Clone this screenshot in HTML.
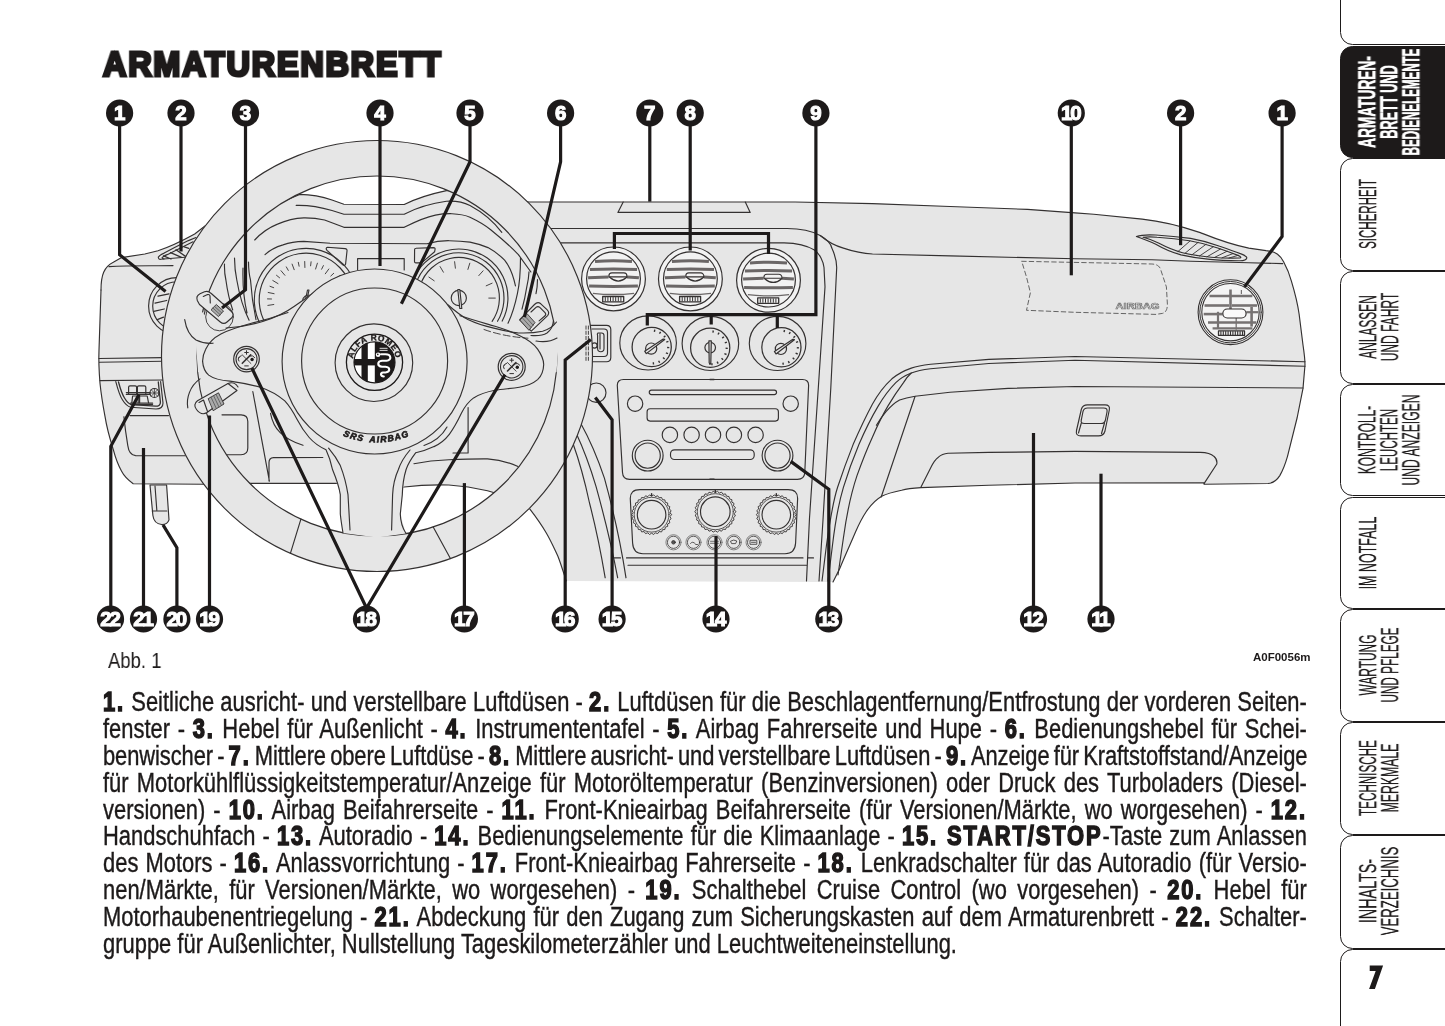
<!DOCTYPE html>
<html lang="de">
<head>
<meta charset="utf-8">
<title>Armaturenbrett</title>
<style>
html,body{margin:0;padding:0;background:#fff;}
html{overflow:hidden;width:1445px;height:1026px;}
body{width:1445px;height:1026px;position:relative;overflow:hidden;font-family:"Liberation Sans",sans-serif;color:#1d1a1a;}
#title{position:absolute;left:103.4px;top:42.4px;font-weight:bold;font-size:35.2px;line-height:44px;white-space:nowrap;transform-origin:0 0;transform:scaleX(0.919);-webkit-text-stroke:3.2px #1d1a1a;letter-spacing:2px;paint-order:stroke fill;}
#fig{position:absolute;left:0;top:0;}
#fig,#title,#abb,#code,#txt,.tl{will-change:transform;}
#abb{position:absolute;left:108px;top:649px;font-size:21.5px;line-height:24px;white-space:nowrap;transform-origin:0 0;transform:scaleX(0.86);}
#code{position:absolute;left:1253px;top:650px;font-size:11.5px;line-height:14px;font-weight:bold;white-space:nowrap;}
#txt{position:absolute;left:103px;top:688.5px;width:1204px;}
#txt div{font-size:27px;line-height:26.9px;height:26.9px;white-space:nowrap;width:1482.8px;transform-origin:0 0;transform:scaleX(0.812);-webkit-text-stroke:0.4px #1d1a1a;text-align:left;}
#txt b{font-weight:bold;-webkit-text-stroke:1.5px #1d1a1a;letter-spacing:2.3px;}
#tabs{position:absolute;left:0;top:0;width:1445px;height:1026px;overflow:hidden;}
.tab{position:absolute;left:1340.2px;width:130px;height:112.6px;border:1.5px solid #1d1a1a;border-radius:12.5px 0 0 12.5px;box-sizing:border-box;background:transparent;}
.tab.on{background:#1d1a1a;}
.tl{position:absolute;left:0;width:0;height:112.6px;}
.tl span{position:absolute;top:50%;white-space:nowrap;text-align:center;font-weight:normal;font-size:23.5px;line-height:21.8px;transform:translate(-50%,-50%) rotate(-90deg) scaleX(0.508);color:#1d1a1a;-webkit-text-stroke:0.28px #1d1a1a;}
.tl i{display:block;font-style:normal;}
.tl.on span{color:#fff;font-weight:bold;-webkit-text-stroke:0.7px #fff;}
#pno{position:absolute;left:1363px;top:958px;font-size:35px;line-height:38px;font-weight:bold;-webkit-text-stroke:1.2px #1d1a1a;transform-origin:0 0;transform:scaleX(0.9);}
</style>
</head>
<body>
<svg id="fig" width="1445" height="1026" viewBox="0 0 1445 1026">
<g fill="none" stroke="#343131" stroke-width="1.15" stroke-linejoin="round" stroke-linecap="round">
<path d="M101 290 C101 275 104 267 113.3 262.3 L121.6 257.6 L144.8 254 L158 250.7 C168 247.5 182 241 194.7 234 L205 226 L250 215 L299.7 194.4 C310 194.5 321.8 196.4 332 200 L343.9 204.2 L404.2 204.5 C414.6 199.2 428.4 194.4 446.4 190.6 L480 190 L528.8 202 L795 202 L872.5 203.6 L950 206.5 L1027.5 209.4 L1075 212.9 L1093.8 214.2 L1142.2 219.1 C1160 221 1175 224 1200.3 232.6 C1215 238.5 1228 244 1248.8 248.1 L1266 250.6 C1276 251.5 1280 255 1283.6 261.7 C1287 268 1289.5 274 1291.4 281.1 C1295 293 1297.5 303 1299.1 314 L1303 345 C1304.5 355 1305 360 1305 365 L1303 388.4 L1297.2 417.5 L1287.5 456.3 C1285 465 1283 470 1279.8 475.6 C1277 480 1274 483 1268 483.5 L1204.2 484.3 L1204 482.8 L1075 483 L988.8 485.3 L921 487.6 C912 488.2 906 489 901.6 490.2 C893 492 887 493.5 882.2 496 C876 499.5 870 506 866 512 C862 518 859 524 855.5 532 C850 545 844 558 840 568 L833 582 L566.2 581 C563 571 561 564 557.9 556.2 C554 548 551 541 546.3 533 C541 524 536 517 529.7 508.9 L480 535 L377 560 L270 535 L204.6 484.2 L133.2 483.7 C128 480 124 476 121.6 471.3 C118 465 115.5 458 113.3 449.7 C109 436 106.5 426 105 416.4 C102.5 403 101 393 100 383.2 C99 371 98.5 361 99 350 L100 320 Z" fill="#e6e6e6" stroke="none"/>
<path d="M101 290 C101 275 104 267 113.3 262.3 L121.6 257.6 L144.8 254 L158 250.7 C168 247.5 182 241 194.7 234 L205 226 L250 215 L299.7 194.4 C310 194.5 321.8 196.4 332 200 L343.9 204.2 L404.2 204.5 C414.6 199.2 428.4 194.4 446.4 190.6 L480 190 L528.8 202 L795 202 L872.5 203.6 L950 206.5 L1027.5 209.4 L1075 212.9 L1093.8 214.2 L1142.2 219.1 C1160 221 1175 224 1200.3 232.6 C1215 238.5 1228 244 1248.8 248.1 L1266 250.6 C1276 251.5 1280 255 1283.6 261.7 C1287 268 1289.5 274 1291.4 281.1 C1295 293 1297.5 303 1299.1 314 L1303 345 C1304.5 355 1305 360 1305 365 L1303 388.4 L1297.2 417.5 L1287.5 456.3 C1285 465 1283 470 1279.8 475.6 C1277 480 1274 483 1268 483.5 L1204.2 484.3 L1204 482.8 L1075 483 L988.8 485.3 L921 487.6 C912 488.2 906 489 901.6 490.2 C893 492 887 493.5 882.2 496 C876 499.5 870 506 866 512 C862 518 859 524 855.5 532 C850 545 844 558 840 568 L833 582" />
<path d="M566.2 581 C563 571 561 564 557.9 556.2 C554 548 551 541 546.3 533 C541 524 536 517 529.7 508.9 " />
<path d="M204.6 484.2 L133.2 483.7 C128 480 124 476 121.6 471.3 C118 465 115.5 458 113.3 449.7 C109 436 106.5 426 105 416.4 C102.5 403 101 393 100 383.2 C99 371 98.5 361 99 350 L100 320 L101 290" />
<path d="M109 266.6 C130 265.5 155 266 173 265.6" />
<path d="M99 358.5 L163 357.6 M99.5 362.3 L163 361.2 M100 380.6 L164 380" />
<path d="M196 237.5 L188.4 240.6 L174.6 247.5 L164.2 253.1 C162 254 160 255 158.3 257.2 C158.5 259 159.5 259.6 160.8 259.3 L185 257.2" />
<path d="M193 241.8 L181.5 247.5 L167.7 254.4 C165.5 255.2 163.5 256 162.1 257.6 C162.3 258.6 163 259 164 258.9" />
<path d="M163.5 255.8 L171 259 M170.5 252.6 L181.5 257.3 M176 249.8 L185.9 256.6 M184.3 246.9 L188.8 248.3" stroke-width="1.3"/>
<circle cx="177.0" cy="306.0" r="28.4" />
<circle cx="177.0" cy="306.0" r="24.3" />
<path d="M158 296.2 L169 293.8 M155 303.2 L166.7 300.5 M153.8 311.4 L164.3 309 M157.3 319.6 L163.5 317.2" stroke-width="1.25"/>
<path d="M115.8 381.6 C118 390 120 396 122.4 399.8 C125 404 127.5 406.5 130.7 407.3 L156 409 C160 409 163 407 163 403 L160.6 381.6" />
<path d="M118.5 382 C120.5 389.5 122.3 394.5 124.5 398 C126.5 401.5 128.8 403.8 131.5 404.6 L155.5 406.2 C158.8 406.2 160.6 404.8 160.4 402 L158.3 382" stroke-width="1.3"/>
<path d="M128.6 393.5 V387.2 q0 -1.4 1.4 -1.4 h5.2 q1.4 0 1.4 1.4 V393.5 M137.4 393.5 V387.2 q0 -1.4 1.4 -1.4 h5.6 q1.4 0 1.4 1.4 V393.5" stroke-width="1.2"/>
<path d="M131.8 403 L132.6 396 h5.6 V403 M139.6 403 V396 h7.6 L148.6 403" stroke-width="1.2"/>
<path d="M126.4 392.6 H150 M126.4 394.4 H150" stroke-width="1.4"/>
<path d="M130.6 403.2 H152.6 M130.6 404.6 H152.6" stroke-width="1.2"/>
<circle cx="154.4" cy="393.0" r="4.5" stroke-width="1.2"/>
<path d="M151.2 389.8 L157.6 396.2 M157.6 389.8 L151.2 396.2 M154.4 388.5 V397.5 M149.9 393 H158.9" stroke-width="0.8"/>
<path d="M130 415.6 H168.5 M123.9 416.7 L125.6 431.1 L127.8 445.6 C128.6 451.5 131 455.3 135.6 455.6 L185 455.8" />
<path d="M150 485 L152.9 515.5 C153.5 520.5 156.5 524 161.7 524.5 C165.5 524.6 168 523 169 519.9 L166.6 485 Z" fill="#e6e6e6"/>
<path d="M152.3 511 L166.8 511 M155 486 L156.8 510 " />
<path d="M623.2 202 L617.9 212.4 L750.2 212.4 L745.3 202" />
<path d="M551 228.5 H787 C802 228.5 812 231 820.2 235.5 C828 240 831 244 831.8 248.1 C835 255 836.7 262 836.7 267.5 L830.8 388 L823 520 L819 581" />
<path d="M561 242.8 H784 C797 243 808 246 814.4 250 C820 254 823.5 262 824 267.5 L825 286.9 L818.3 388 L809.5 518 L806.5 581" />
<path d="M820.2 235.5 C829 243 836 246 843.4 248.1 C852 251 862 253.5 872.5 254 L950 255.9 L1075 258.8 L1151.9 259.8 L1190.6 261.3 L1248.8 262.7 L1282.7 263.6" />
<path d="M1021.7 261.3 L1075 262.4 L1151.9 264 C1157 264.3 1159.5 266 1160.6 269.4 L1166.4 286.9 L1167.4 304.3 C1167.3 309.5 1166 312.3 1162.5 313.4 L1155.8 314.4 L1075 312.3 L1026.5 310.3 L1030.4 292.7 L1026.5 277 Z" stroke-dasharray="4.5 3" stroke-width="0.9" stroke="#555"/>
<text x="1137.5" y="309.3" font-family="Liberation Sans, sans-serif" font-weight="bold" font-size="8.6" text-anchor="middle" fill="#e6e6e6" stroke="#777" stroke-width="0.7" textLength="44" lengthAdjust="spacingAndGlyphs">AIRBAG</text>
<path d="M1136.4 236.5 C1142 234.5 1149 234.6 1155.8 235 C1168 235.8 1180 237 1190.6 238.4 C1201 240.3 1211 243 1219.7 246.2 C1228 249 1235 251.5 1241 253.9 C1245 255.5 1247 256.5 1246.8 257.8 C1246.5 260 1243 260.8 1239 260.7 C1229 260.6 1219 260.3 1210 259.4 C1200 258.5 1190 257 1181 254.9 C1172 252.5 1163 248.5 1155.8 244.3 C1149 241 1142 238.5 1136.4 236.5 Z" />
<path d="M1143 237.3 C1148 236.5 1152 236.7 1157 237.2 C1168 238 1180 239.3 1189.6 240.8 C1200 242.6 1209 245 1217.7 248 C1226 250.8 1232 253 1238 255.4 C1241 256.6 1241.5 257.6 1240 258 C1230 258.3 1220 258 1211 257.2 C1201 256.3 1191 254.8 1182.5 252.7 C1174 250.5 1166 247 1159 243.3 C1153 240.5 1148 238.5 1143 237.3 Z" />
<path d="M1178 251.5 L1190 241 M1185 253.3 L1198 242.5 M1192 254.8 L1206 244.3 M1199.5 256 L1213.5 246.6 M1207 256.8 L1220.5 249 M1214.5 257.4 L1227 251.3 M1222 257.8 L1233 253.6 M1229 258 L1238 255.4" stroke-width="0.9"/>
<circle cx="1230.5" cy="312.2" r="32.4" fill="#f3f3f3" stroke-width="1.1"/>
<circle cx="1230.5" cy="312.2" r="30.7" stroke-width="1"/>
<circle cx="1230.5" cy="312.2" r="28.7" fill="#f3f3f3" stroke-width="1.1"/>
<path d="M1209.5 296.0 H1252.4" stroke="#767272" stroke-width="2.6" stroke-linecap="butt"/>
<path d="M1204.5 305.5 H1229.0" stroke="#767272" stroke-width="2.6" stroke-linecap="butt"/>
<path d="M1232.0 305.5 H1257.0" stroke="#767272" stroke-width="2.6" stroke-linecap="butt"/>
<path d="M1203.7 314.1 H1222.5" stroke="#767272" stroke-width="2.6" stroke-linecap="butt"/>
<path d="M1246.3 312.2 H1258.5" stroke="#767272" stroke-width="2.2" stroke-linecap="butt"/>
<path d="M1208.0 322.5 H1256.3" stroke="#767272" stroke-width="2.6" stroke-linecap="butt"/>
<path d="M1212.6 328.3 H1252.4" stroke="#767272" stroke-width="2.2" stroke-linecap="butt"/>
<path d="M1230.5 289.5 V309.2" stroke="#767272" stroke-width="2.6" stroke-linecap="butt"/>
<path d="M1218.0 311.8 V328.0" stroke="#767272" stroke-width="2.2" stroke-linecap="butt"/>
<path d="M1251.6 307.0 V326.6" stroke="#767272" stroke-width="2.6" stroke-linecap="butt"/>
<path d="M1236.2 318.0 V329.7" stroke="#767272" stroke-width="1.3" stroke-linecap="butt"/>
<path d="M1241.4 290.0 V294.0" stroke="#767272" stroke-width="1.2" stroke-linecap="butt"/>
<path d="M1222.8 313.5 a4.5 4.5 0 0 1 4.5-4.5 h14.3 a4.5 4.5 0 0 1 0 9 h-14.3 a4.5 4.5 0 0 1 -4.5-4.5 Z" fill="#fafafa" stroke-width="1.2"/>
<path d="M1218.5 330.9 h26 v4.5 h-26 Z" fill="#f3f3f3" stroke-width="1.3"/>
<path d="M1220.9 331.6 v3.2 M1223.3 331.6 v3.2 M1225.7 331.6 v3.2 M1228.1 331.6 v3.2 M1230.5 331.6 v3.2 M1232.9 331.6 v3.2 M1235.3 331.6 v3.2 M1237.7 331.6 v3.2 M1240.1 331.6 v3.2 M1242.5 331.6 v3.2" stroke-width="1.1"/>
<path d="M1305 361.7 L1075 356.5 L988.8 359.4 L930.6 364.2 C922 365.3 916 366.5 911.3 368.1 C903 371 897 374.5 891.9 378.8 C884 386 878 394 872.5 404 C865 418 859 431 853.1 444.6 C847 460 842 474 837.6 487.3 C833.5 500 830 520 826.5 545 L822 581" />
<path d="M1305 366.2 L1075 360.3 L988.8 363.5 L930.6 368.7 C922 369.8 916 371.2 911.3 373 C905 375.5 900 378.5 895.8 382.6 C889 389.5 883.5 397 878.3 405.9 C870.5 419 864.5 431.5 858.9 444.6 C852.5 460 847.5 474 843.4 487.3 C839 502 835.5 520 832.5 545 L828 581" />
<path d="M911.3 373 C908 376 905.5 379 903.5 382.6 C898 390 893 397.5 888 405.9 C882 416 877 426.5 872.5 436.9 C866.5 450 861.5 463 857 475.6 C851.5 492 847.5 508 843.4 538 L838 575" />
<path d="M1303 388 L1075 386.5 L1008.1 388.4 L950 392.3 L915.1 396.2 C909 397.3 904 398.5 899.6 400 C894 403 890 407 886 411.7 C882 416.5 879 421 876.4 425.3 M915.1 396.2 L881.2 497" />
<path d="M921 486.9 L930.6 467.9 C933 463 935 459.5 938.4 457.2 C941 454.8 944 453.6 948 453.3 L988.8 452.4 L1075 451.4 L1200.3 452.4 C1207 452.6 1211.5 454 1213.9 456.3 C1216.5 458.5 1217.3 461 1216.8 464 L1204.2 483.4" />
<path d="M1087.5 404.9 L1105 404.9 C1108.5 404.9 1110 406.5 1109.3 410 L1105 431 C1104 434.5 1102 435.9 1098.5 435.9 L1081 435.9 C1077 435.9 1075.8 434 1076.5 430.5 L1081.3 409.5 C1082.2 406.3 1084 404.9 1087.5 404.9 Z" />
<path d="M1087.5 408 L1103.5 408 C1106.5 408 1107.5 409.3 1107 412 L1105.3 420.5 C1104.7 422.8 1103.3 423.5 1101 423.5 L1084.5 423.5 C1081.5 423.5 1080.7 422.3 1081.3 420 L1083 411.5 C1083.6 409 1085 408 1087.5 408 Z M1081.3 423 L1078.5 433 M1104.5 423 L1101.5 433.5" />
<path d="M296.2 205.4 C310 205 322 207.5 332 210.5 L343.9 214.2 L404.2 214.2 C414.6 208.9 430 203.5 446.4 201.3 C455 200.8 463 202 470 205.5 C483 212.5 494 222 501.8 232.4" />
<path d="M254.7 240 C262 232 269 227.5 277.5 224.1 C287 220 296 218.2 303.8 217.9 C312 217.8 318 218.5 324.6 220 L343.9 227.3 L404.2 227.3 C414.6 222 426 217 435.4 215.1 C441 214 447 213.6 452 213.7 C459 214 465 215 470 217.2 C478 221 485 225 490.7 229.7 C501 238 511 247 518.4 254.6 L530.9 272" />
<path d="M265 254.6 C270 250 276 247 283 244.9 C290 242.5 297 241.6 303.8 241.4 L330 243.2 L427 243.8 C435 241.5 442 240.6 449.2 240.7 C457 240.8 464 241.3 470 242.1 C477 243.5 483 245.5 488 247.6 C495 251.5 500 255.5 504.6 260.1 C509 265.5 513 274 515.5 286" />
<path d="M327.5 247.3 L345 248.6 C346.6 248.8 347.2 249.6 347 251 L345.6 264 C345.3 265.6 344 265.8 342.8 264.8 L327 250.3 C325.8 249 326 247.4 327.5 247.3 Z" />
<path d="M416 248.2 L433.5 247.6 C434.8 247.6 435.3 248.3 435 249.6 L434.6 251.8 L421.5 262.9 L416 262.9 C414.9 262.9 414.4 262.3 414.5 261 L414.6 249.5 C414.7 248.6 415.1 248.2 416 248.2 Z" />
<path d="M357.6 270 V258.6 H404.2 V270" />
<path d="M261.2 325.9 A51.7 51.7 0 1 1 356.6 310.7" />
<path d="M265.5 323.4 A46.8 46.8 0 1 1 351.8 309.7" />
<path d="M267.9 305.4 L273.8 304.5" stroke-width="0.9"/>
<path d="M267.5 298.9 L271.5 299.0" stroke-width="0.9"/>
<path d="M268.2 292.5 L274.1 293.7" stroke-width="0.9"/>
<path d="M270.0 286.3 L273.7 287.7" stroke-width="0.9"/>
<path d="M272.8 280.5 L278.0 283.6" stroke-width="0.9"/>
<path d="M276.5 275.3 L279.6 277.8" stroke-width="0.9"/>
<path d="M281.0 270.7 L284.9 275.3" stroke-width="0.9"/>
<path d="M286.3 266.9 L288.3 270.4" stroke-width="0.9"/>
<path d="M292.1 264.1 L294.2 269.7" stroke-width="0.9"/>
<path d="M298.3 262.3 L299.1 266.2" stroke-width="0.9"/>
<path d="M304.7 261.5 L304.9 267.5" stroke-width="0.9"/>
<path d="M311.1 261.8 L310.6 265.8" stroke-width="0.9"/>
<path d="M317.4 263.2 L315.6 269.0" stroke-width="0.9"/>
<path d="M323.4 265.6 L321.6 269.2" stroke-width="0.9"/>
<path d="M328.8 269.0 L325.3 273.8" stroke-width="0.9"/>
<path d="M333.7 273.3 L330.8 276.0" stroke-width="0.9"/>
<path d="M337.8 278.2 L332.8 281.6" stroke-width="0.9"/>
<path d="M340.9 283.9 L337.3 285.5" stroke-width="0.9"/>
<path d="M343.2 289.9 L337.4 291.5" stroke-width="0.9"/>
<path d="M302.5 301 a6 6 0 0 1 8-5.5 M307.5 290 l1.5 0 l-2.5 12 l-1.5 0 Z" />
<path d="M410.2 304.8 A49.1 49.1 0 1 1 502.2 321.1" />
<path d="M414.0 304.3 A45.2 45.2 0 1 1 497.5 321.3" />
<path d="M418.6 303.7 A40.6 40.6 0 1 1 492.1 321.3" />
<path d="M428.9 277.1 L434.2 280.8" stroke-width="0.9"/>
<path d="M440.1 266.6 L443.4 272.2" stroke-width="0.9"/>
<path d="M454.6 261.7 L455.4 268.2" stroke-width="0.9"/>
<path d="M469.8 263.2 L467.9 269.4" stroke-width="0.9"/>
<path d="M483.1 270.8 L478.8 275.6" stroke-width="0.9"/>
<path d="M492.1 283.2 L486.2 285.8" stroke-width="0.9"/>
<path d="M495.3 298.1 L488.8 298.1" stroke-width="0.9"/>
<circle cx="458.8" cy="298.0" r="7.6" />
<path d="M457.8 289.5 h2 l2 19 h-2 Z" fill="#e6e6e6"/>
<path d="M520.5 257.7 C520.5 272 519.5 284 517.4 293.6 C515 305 512 315 508 323.2 M529 271.8 C528.8 277 528 282 526.7 287.4 C525.5 295 524 302 522 309.2 M537.5 279.5 C537.5 285 537 289 536 293.6" />
<path d="M224.5 264 C224.3 270 225 276 225.9 280 C227.5 292 230 302 232.7 310 M234.5 258 C234.6 266 235.5 274 236.8 280 C239.5 296 244 310 249.1 320.2 M248.5 262 C248.6 270 249.2 275 250.5 280 C251.5 295 253.5 308 256 319.6 M243 268 C242.5 285 244 300 247 313" />
<circle cx="613.5" cy="278.9" r="31.9" fill="#f2f2f2" stroke-width="1.2"/>
<circle cx="613.5" cy="278.7" r="26.9" fill="#f2f2f2" stroke-width="1.2"/>
<path d="M595.0 261.6 Q613.5 260.1 632.0 261.6" stroke="#6b6767" stroke-width="3.0" stroke-linecap="butt"/>
<path d="M589.9 269.5 Q613.5 268.6 637.1 269.5" stroke="#6b6767" stroke-width="3.0" stroke-linecap="butt"/>
<path d="M589.1 286.1 Q613.5 286.7 637.9 286.1" stroke="#6b6767" stroke-width="3.0" stroke-linecap="butt"/>
<path d="M592.9 293.3 Q613.5 295.7 634.1 293.3" stroke="#6b6767" stroke-width="1.3" stroke-linecap="butt"/>
<path d="M588.1 277.7 L608.5 276.9 M627.0 276.9 L638.9 277.7" stroke="#6b6767" stroke-width="3" stroke-linecap="butt"/>
<path d="M608.9 276.9 v-1 a3 3 0 0 1 3-3 h12 a3 3 0 0 1 3 3 v1 Z" fill="#f2f2f2" stroke-width="1.1"/>
<path d="M609.7 277.3 q8.6 7.5 17 0" stroke-width="1.2"/>
<path d="M602.7 296.5 h21 v5.4 h-21 Z" fill="#f2f2f2" stroke-width="1.3"/>
<path d="M605.3 297.5 v3.4 M607.9 297.5 v3.4 M610.5 297.5 v3.4 M613.1 297.5 v3.4 M615.7 297.5 v3.4 M618.3 297.5 v3.4 M620.9 297.5 v3.4" stroke-width="1"/>
<circle cx="690.4" cy="278.9" r="31.9" fill="#f2f2f2" stroke-width="1.2"/>
<circle cx="690.4" cy="278.7" r="26.9" fill="#f2f2f2" stroke-width="1.2"/>
<path d="M671.9 261.6 Q690.4 260.1 708.9 261.6" stroke="#6b6767" stroke-width="3.0" stroke-linecap="butt"/>
<path d="M666.8 269.5 Q690.4 268.6 714.0 269.5" stroke="#6b6767" stroke-width="3.0" stroke-linecap="butt"/>
<path d="M666.0 286.1 Q690.4 286.7 714.8 286.1" stroke="#6b6767" stroke-width="3.0" stroke-linecap="butt"/>
<path d="M669.8 293.3 Q690.4 295.7 711.0 293.3" stroke="#6b6767" stroke-width="1.3" stroke-linecap="butt"/>
<path d="M665.0 277.7 L685.4 276.9 M703.9 276.9 L715.8 277.7" stroke="#6b6767" stroke-width="3" stroke-linecap="butt"/>
<path d="M685.8 276.9 v-1 a3 3 0 0 1 3-3 h12 a3 3 0 0 1 3 3 v1 Z" fill="#f2f2f2" stroke-width="1.1"/>
<path d="M686.6 277.3 q8.6 7.5 17 0" stroke-width="1.2"/>
<path d="M679.6 296.5 h21 v5.4 h-21 Z" fill="#f2f2f2" stroke-width="1.3"/>
<path d="M682.2 297.5 v3.4 M684.8 297.5 v3.4 M687.4 297.5 v3.4 M690.0 297.5 v3.4 M692.6 297.5 v3.4 M695.2 297.5 v3.4 M697.8 297.5 v3.4" stroke-width="1"/>
<circle cx="768.5" cy="280.3" r="31.9" fill="#f2f2f2" stroke-width="1.2"/>
<circle cx="768.5" cy="280.1" r="26.9" fill="#f2f2f2" stroke-width="1.2"/>
<path d="M750.0 263.0 Q768.5 261.5 787.0 263.0" stroke="#6b6767" stroke-width="3.0" stroke-linecap="butt"/>
<path d="M744.9 270.9 Q768.5 270.0 792.1 270.9" stroke="#6b6767" stroke-width="3.0" stroke-linecap="butt"/>
<path d="M744.1 287.5 Q768.5 288.1 792.9 287.5" stroke="#6b6767" stroke-width="3.0" stroke-linecap="butt"/>
<path d="M747.9 294.7 Q768.5 297.1 789.1 294.7" stroke="#6b6767" stroke-width="1.3" stroke-linecap="butt"/>
<path d="M743.1 279.1 L763.5 278.3 M782.0 278.3 L793.9 279.1" stroke="#6b6767" stroke-width="3" stroke-linecap="butt"/>
<path d="M763.9 278.3 v-1 a3 3 0 0 1 3-3 h12 a3 3 0 0 1 3 3 v1 Z" fill="#f2f2f2" stroke-width="1.1"/>
<path d="M764.7 278.7 q8.6 7.5 17 0" stroke-width="1.2"/>
<path d="M757.7 297.9 h21 v5.4 h-21 Z" fill="#f2f2f2" stroke-width="1.3"/>
<path d="M760.3 298.9 v3.4 M762.9 298.9 v3.4 M765.5 298.9 v3.4 M768.1 298.9 v3.4 M770.7 298.9 v3.4 M773.3 298.9 v3.4 M775.9 298.9 v3.4" stroke-width="1"/>
<ellipse cx="648.1" cy="342.9" rx="28.3" ry="27.1"/>
<circle cx="651.7" cy="347.0" r="19.6" stroke-width="1.25"/>
<path d="M654.8 329.7 L654.4 331.8" stroke-width="1.4" stroke-linecap="butt"/>
<path d="M660.6 331.8 L659.5 333.7" stroke-width="1.4" stroke-linecap="butt"/>
<path d="M665.4 335.9 L663.7 337.3" stroke-width="1.4" stroke-linecap="butt"/>
<path d="M668.4 341.4 L666.3 342.1" stroke-width="1.4" stroke-linecap="butt"/>
<path d="M669.3 347.6 L667.1 347.5" stroke-width="1.4" stroke-linecap="butt"/>
<path d="M668.0 353.7 L665.9 352.9" stroke-width="1.4" stroke-linecap="butt"/>
<path d="M664.6 359.0 L663.0 357.5" stroke-width="1.4" stroke-linecap="butt"/>
<path d="M659.6 362.8 L658.6 360.8" stroke-width="1.4" stroke-linecap="butt"/>
<path d="M653.5 364.5 L653.3 362.3" stroke-width="1.4" stroke-linecap="butt"/>
<circle cx="651.2" cy="348.6" r="5.6" stroke-width="1.2"/>
<path d="M644.7 351.2 L663.2 339.0 L664.7 339.4 L646.3 353.6 Z" fill="#e6e6e6" stroke-width="1.2"/>
<ellipse cx="710.4" cy="343.4" rx="28.3" ry="27.1"/>
<circle cx="710.2" cy="347.8" r="19.6" stroke-width="1.25"/>
<path d="M713.3 330.5 L712.9 332.6" stroke-width="1.4" stroke-linecap="butt"/>
<path d="M719.1 332.6 L718.0 334.5" stroke-width="1.4" stroke-linecap="butt"/>
<path d="M723.9 336.7 L722.2 338.1" stroke-width="1.4" stroke-linecap="butt"/>
<path d="M726.9 342.2 L724.8 342.9" stroke-width="1.4" stroke-linecap="butt"/>
<path d="M727.8 348.4 L725.6 348.3" stroke-width="1.4" stroke-linecap="butt"/>
<path d="M726.5 354.5 L724.4 353.7" stroke-width="1.4" stroke-linecap="butt"/>
<path d="M723.1 359.8 L721.5 358.3" stroke-width="1.4" stroke-linecap="butt"/>
<path d="M718.1 363.6 L717.1 361.6" stroke-width="1.4" stroke-linecap="butt"/>
<path d="M712.0 365.3 L711.8 363.1" stroke-width="1.4" stroke-linecap="butt"/>
<circle cx="710.2" cy="347.6" r="5.3" stroke-width="1.2"/>
<path d="M708.9 340.8 h2.4 l-0.5 22 l-0.8 1.6 l-0.8 -1.6 Z" fill="#e6e6e6" stroke-width="1.2"/>
<ellipse cx="777.6" cy="343.4" rx="28.3" ry="27.1"/>
<circle cx="781.4" cy="347.3" r="19.6" stroke-width="1.25"/>
<path d="M784.5 330.0 L784.1 332.1" stroke-width="1.4" stroke-linecap="butt"/>
<path d="M790.3 332.1 L789.2 334.0" stroke-width="1.4" stroke-linecap="butt"/>
<path d="M795.1 336.2 L793.4 337.6" stroke-width="1.4" stroke-linecap="butt"/>
<path d="M798.1 341.7 L796.0 342.4" stroke-width="1.4" stroke-linecap="butt"/>
<path d="M799.0 347.9 L796.8 347.8" stroke-width="1.4" stroke-linecap="butt"/>
<path d="M797.7 354.0 L795.6 353.2" stroke-width="1.4" stroke-linecap="butt"/>
<path d="M794.3 359.3 L792.7 357.8" stroke-width="1.4" stroke-linecap="butt"/>
<path d="M789.3 363.1 L788.3 361.1" stroke-width="1.4" stroke-linecap="butt"/>
<path d="M783.2 364.8 L783.0 362.6" stroke-width="1.4" stroke-linecap="butt"/>
<circle cx="780.9" cy="348.9" r="5.6" stroke-width="1.2"/>
<path d="M774.4 351.5 L792.9 339.3 L794.4 339.7 L776.0 353.9 Z" fill="#e6e6e6" stroke-width="1.2"/>
<path d="M588 325.3 H606.5 C609.5 325.3 610.8 326.5 610.8 329.5 V357.5 C610.8 360.5 609.5 361.7 606.5 361.7 H588" />
<path d="M592 329 H604 C606.5 329 607.5 330 607.5 332.5 V353 C607.5 355.5 606.5 356.5 604 356.5 H592" />
<path d="M598 333 h3.5 a2.5 2.5 0 0 1 2.5 2.5 v13 a3.2 3.2 0 0 1 -6.4 0 v-13 a2 2 0 0 1 0.4 -2.5 Z M600 334 v15" />
<circle cx="594.5" cy="345.5" r="2.6" />
<circle cx="596.3" cy="392.7" r="9.7" />
<path d="M623.5 379.5 H802.5 C806.5 379.5 808.7 381.5 808.6 385.5 L804.8 472.5 C804.5 477 802 479.3 797.5 479.3 H629.5 C625 479.3 622.7 477 622.5 472.5 L617.3 385.5 C617.2 381.5 619.5 379.5 623.5 379.5 Z" />
<path d="M710 379.5 h4 M710 479.3 h4" stroke-width="1.6"/>
<path d="M651.5 390.1 H774.3 a2.25 2.25 0 0 1 0 4.5 H651.5 a2.25 2.25 0 0 1 0 -4.5 Z" />
<rect x="647.1" y="408.7" width="131.3" height="12.4" rx="3" ry="3"/>
<circle cx="635.1" cy="403.7" r="7.7" />
<circle cx="790.7" cy="403.7" r="7.7" />
<circle cx="669.9" cy="434.9" r="7.7" />
<circle cx="691.6" cy="434.9" r="7.7" />
<circle cx="713.0" cy="434.9" r="7.7" />
<circle cx="733.9" cy="434.9" r="7.7" />
<circle cx="755.6" cy="434.9" r="7.7" />
<circle cx="647.7" cy="455.6" r="15.4" />
<circle cx="647.7" cy="455.6" r="12.6" />
<circle cx="777.5" cy="455.6" r="15.4" />
<circle cx="777.5" cy="455.6" r="12.6" />
<rect x="670.5" y="449.8" width="83.7" height="9.7" rx="4" ry="4"/>
<path d="M640 489.6 H788 C794.5 489.6 797.9 492.5 797.6 499 L795.6 543 C795.2 550 791.5 553.7 785 553.7 H643 C636.5 553.7 633 550 632.6 543 L630.3 499 C630 492.5 633.5 489.6 640 489.6 Z" />
<path d="M671.5 514.7 L670.0 516.6 L671.1 518.8 L669.2 520.4 L669.8 522.8 L667.6 524.0 L667.7 526.4 L665.3 527.1 L664.9 529.5 L662.5 529.7 L661.6 531.9 L659.1 531.6 L657.7 533.6 L655.4 532.8 L653.7 534.5 L651.6 533.2 L649.5 534.5 L647.8 532.8 L645.5 533.6 L644.1 531.6 L641.6 531.9 L640.7 529.7 L638.3 529.5 L637.9 527.1 L635.5 526.4 L635.6 524.0 L633.4 522.8 L634.0 520.4 L632.1 518.8 L633.2 516.6 L631.7 514.7 L633.2 512.8 L632.1 510.6 L634.0 509.0 L633.4 506.6 L635.6 505.5 L635.5 503.0 L637.9 502.3 L638.3 499.9 L640.7 499.7 L641.6 497.5 L644.1 497.8 L645.5 495.8 L647.8 496.6 L649.5 494.9 L651.6 496.2 L653.7 494.9 L655.4 496.6 L657.7 495.8 L659.1 497.8 L661.6 497.5 L662.5 499.7 L664.9 499.9 L665.3 502.3 L667.7 503.0 L667.6 505.5 L669.8 506.6 L669.2 509.0 L671.1 510.6 L670.0 512.8 Z" stroke-width="0.9"/>
<circle cx="651.6" cy="514.7" r="17.4" stroke-width="0.8"/>
<circle cx="651.6" cy="514.7" r="14.3" />
<path d="M735.8 511.7 L734.3 513.7 L735.4 516.0 L733.5 517.6 L734.0 520.0 L731.8 521.2 L731.9 523.7 L729.5 524.5 L729.0 526.9 L726.5 527.2 L725.5 529.5 L723.1 529.1 L721.6 531.2 L719.3 530.4 L717.4 532.1 L715.3 530.8 L713.2 532.1 L711.3 530.4 L709.0 531.2 L707.5 529.1 L705.0 529.5 L704.1 527.2 L701.6 526.9 L701.1 524.5 L698.7 523.7 L698.8 521.2 L696.6 520.0 L697.1 517.6 L695.2 516.0 L696.3 513.7 L694.8 511.7 L696.3 509.7 L695.2 507.4 L697.1 505.8 L696.6 503.4 L698.8 502.1 L698.7 499.7 L701.1 498.9 L701.6 496.5 L704.1 496.2 L705.0 493.9 L707.5 494.3 L709.0 492.2 L711.3 493.0 L713.2 491.3 L715.3 492.6 L717.4 491.3 L719.3 493.0 L721.6 492.2 L723.1 494.3 L725.5 493.9 L726.5 496.2 L729.0 496.5 L729.5 498.9 L731.9 499.7 L731.8 502.1 L734.0 503.4 L733.5 505.8 L735.4 507.4 L734.3 509.7 Z" stroke-width="0.9"/>
<circle cx="715.3" cy="511.7" r="18.0" stroke-width="0.8"/>
<circle cx="715.3" cy="511.7" r="14.8" />
<path d="M796.2 514.7 L794.7 516.6 L795.8 518.8 L793.9 520.4 L794.5 522.8 L792.3 524.0 L792.4 526.4 L790.0 527.1 L789.6 529.5 L787.2 529.7 L786.2 531.9 L783.8 531.6 L782.4 533.6 L780.1 532.8 L778.4 534.5 L776.3 533.2 L774.2 534.5 L772.5 532.8 L770.2 533.6 L768.8 531.6 L766.3 531.9 L765.4 529.7 L763.0 529.5 L762.6 527.1 L760.2 526.4 L760.3 524.0 L758.1 522.8 L758.7 520.4 L756.8 518.8 L757.9 516.6 L756.4 514.7 L757.9 512.8 L756.8 510.6 L758.7 509.0 L758.1 506.6 L760.3 505.5 L760.2 503.0 L762.6 502.3 L763.0 499.9 L765.4 499.7 L766.3 497.5 L768.8 497.8 L770.2 495.8 L772.5 496.6 L774.2 494.9 L776.3 496.2 L778.4 494.9 L780.1 496.6 L782.4 495.8 L783.8 497.8 L786.2 497.5 L787.2 499.7 L789.6 499.9 L790.0 502.3 L792.4 503.0 L792.3 505.5 L794.5 506.6 L793.9 509.0 L795.8 510.6 L794.7 512.8 Z" stroke-width="0.9"/>
<circle cx="776.3" cy="514.7" r="17.4" stroke-width="0.8"/>
<circle cx="776.3" cy="514.7" r="14.3" />
<path d="M651.6 493.6 v2 M715.3 489.8 v2.4 M776.3 493.6 v2" stroke-width="1.4"/>
<circle cx="673.5" cy="542.3" r="7.6" stroke="#777" stroke-width="0.9"/>
<circle cx="673.5" cy="542.3" r="6.1" stroke-width="0.8"/>
<circle cx="693.5" cy="542.3" r="7.6" stroke="#777" stroke-width="0.9"/>
<circle cx="693.5" cy="542.3" r="6.1" stroke-width="0.8"/>
<circle cx="714.5" cy="542.3" r="7.6" stroke="#777" stroke-width="0.9"/>
<circle cx="714.5" cy="542.3" r="6.1" stroke-width="0.8"/>
<circle cx="733.8" cy="542.3" r="7.6" stroke="#777" stroke-width="0.9"/>
<circle cx="733.8" cy="542.3" r="6.1" stroke-width="0.8"/>
<circle cx="753.6" cy="542.3" r="7.6" stroke="#777" stroke-width="0.9"/>
<circle cx="753.6" cy="542.3" r="6.1" stroke-width="0.8"/>
<circle cx="673.5" cy="542.3" r="1.8" stroke-width="0.8" fill="#555"/>
<path d="M690.5 543.5 q2 -3 5 0.5 M696 544.5 l1.5 0" stroke-width="0.8"/>
<path d="M710.5 541.3 h8 M710.5 543.3 h8" stroke-width="0.9" stroke="#666"/>
<path d="M730.8 541 q3 -2 6 0 l-1.2 2.6 h-3.6 Z" stroke-width="0.8"/>
<path d="M750.4 540.3 h6.4 v4 h-6.4 Z M751.5 542.3 h4" stroke-width="0.8"/>
<path d="M614.4 557.9 H620.5 M626.5 557.9 H803 M808 557.9 H813.5 M628 565.2 H806.5" />
<path d="M580.3 422.5 C577 429 574.5 436 572.9 443.3 C580 463 585 482 589.5 503 C596 528 601 553 605.2 577.8" />
<path d="M576.2 433.3 C584 450 590.5 468 596 486.4 C604.5 517 612 548 617.7 577.8" />
<path d="M580.3 422.5 C590 440 598 459 604.4 478.1 C613.5 511 621 545 626 577.8" />
<clipPath id="cin"><circle cx="377.0" cy="356.0" r="180.0"/></clipPath>
<path d="M225 483.3 H352 V545 H225 Z M385 488.5 L404.2 487 C420 485 435 484.6 448.8 485 C463 485.8 476 488 487.5 490.8 C497 493.5 505 496 512.7 498.6 L540 510 V545 H385 Z" fill="#fff" stroke="none" clip-path="url(#cin)"/>
<path d="M269 481 V462.5 C269 459.5 270.5 457.8 273.5 457.6 L322.8 457.5 M252.8 391.5 L269.4 481.2" />
<path d="M413.9 463.7 C425 461.5 437 460.2 448.8 459.8 C462 459.2 475 458.8 487.5 458.9 C498 459.5 508 462 518 466.5 M453 453 H468.1 V407.5 M225 483.3 H345" />
<path d="M392 488 L404.2 487 C420 485 435 484.6 448.8 485 C463 485.8 476 488 487.5 490.8 C497 493.5 505 496 512.7 498.6" />
<path d="M222 414.8 H241 C245.5 414.8 247.8 417 247.8 421.5 V448 C247.8 452.5 245.5 454.7 241 454.7 H226" />
<path d="M161.5 356.0 a215.5 215.5 0 1 0 431.0 0 a215.5 215.5 0 1 0 -431.0 0 Z M197.0 356.0 a180.0 180.0 0 1 1 360.0 0 a180.0 180.0 0 1 1 -360.0 0 Z" fill="#e6e6e6" fill-rule="evenodd"/>
<path d="M433.2 527.0 L450.4 558.6" />
<path d="M300.9 519.1 L290.4 553.3" />
<path d="M198 305 C205 318 214 327.5 226 328 C250 327 277 319 294.4 306.3 C308 296.5 322 287 340 275.8 A92.5 92.5 0 0 1 447.5 304.5 C470 321 500 332.5 530 333 C545 332 552 328 556.5 322 L558.5 345 L556.5 372 L537.6 379.6 L519.3 387.2 L495 390.3 L473.6 397.9 L461.5 413.1 L449.3 434.4 L434 446.6 L415.8 452.7 L406.1 469.5 L402.3 494.7 L400.3 514 L406 533.5 L377 537.5 L343 533 L340.3 514 L340.3 494.7 L332.5 469.5 L326 449.7 L309.2 437.5 L297 419.2 L284.8 400.9 L260.5 387.2 L230 381.1 L208.7 375.1 L198 372 L196 345 Z" fill="#e6e6e6" stroke="none"/>
<path d="M226 328 C250 327 277 319 294.4 306.3 C308 296.5 322 287 340 275.8" />
<path d="M184.7 319.6 C186 328 190 336 196 340 C202 343 208 343.6 213 343.2" />
<path d="M447.5 304.5 C455 311 461 316 467.9 319.6 C476 323.5 484 326 492.8 327.9 C501 330 509 332 517.7 332.9 C526 333.3 535 332.8 542.6 331.2 C548 329.8 552 328 556.5 322" />
<path d="M484 329.5 C495 333.5 510 337 528 338.2" stroke-dasharray="7 3" stroke-width="0.9"/>
<path d="M536 341 C545 342.5 552 341 557 338" />
<path d="M288 312.5 C275 317 263 320.5 251.4 323.3 C240 326.5 230 329.5 220.9 333.9 C213 338 208.5 343 205.7 349.2 C203.5 353.5 202.5 357.5 202.6 361.4 C203 367 205 372 208.7 375.1 C214 379 221 380.5 230 381.1 C240 382.5 250 384.5 260.5 387.2 C270 390.5 278 395 284.8 400.9 C290 406.5 293.5 412.5 297 419.2 C300.5 426 304.5 432 309.2 437.5 C314 443 320 447 326 449.7 C329 456 331 462 332.5 469.5 C336 478 339 486 340.3 494.7 L340.3 514 C341 521 342 527 343 533" />
<path d="M328.6 448.2 C333.5 454 337.5 460 340.3 465.6 C344 475 346.5 485 348 494.7 L350 530" />
<path d="M270.5 413.3 C272 421 275.5 428 280.2 432.7 C286 438.5 293.5 442.5 303 445.3" />
<path d="M460 315.7 C472 319.5 484 323 495 326.3 C504 329 512 332 519.3 335.5 C528 339.5 534 344 537.6 349.2 C541 354 543.5 359 543.7 364.4 C543.5 370.5 541.5 376 537.6 379.6 C533 383.5 527 386 519.3 387.2 C511 388.5 503 389 495 390.3 C487 391.8 479.5 394.3 473.6 397.9 C468 402 464.5 407 461.5 413.1 C458 420.5 454 428 449.3 434.4 C445 440 440 444 434 446.6 C428 449.5 422 451.5 415.8 452.7 C411 459 408 464 406.1 469.5 C403.5 478 402.5 486 402.3 494.7 L400.3 514 C400.5 522 402.5 528 406 533.5" />
<path d="M410 450 C404 457 400.5 463 398.4 469.5 C394.5 478 393 486 392.6 494.7 L391.6 530" />
<path d="M447 427 C442 436 434 442 424 445.5" />
<circle cx="374.6" cy="361.5" r="92.5" fill="#e6e6e6"/>
<circle cx="374.6" cy="361.0" r="73.0" />
<circle cx="373.9" cy="362.7" r="38.8" />
<circle cx="374.5" cy="362.3" r="28.1" fill="#e6e6e6" stroke-width="1.3" stroke="#1d1a1a"/>
<clipPath id="bclip"><circle cx="374.5" cy="362.3" r="20.5"/></clipPath>
<circle cx="374.5" cy="362.3" r="20.5" fill="#fff" stroke="none"/>
<g clip-path="url(#bclip)" stroke="none">
<rect x="374.8" y="341.8" width="20.5" height="41.0" fill="#1d1a1a"/>
<rect x="361.5" y="341.8" width="6.3" height="41.0" fill="#1d1a1a"/>
<rect x="354.0" y="359.0" width="21.0" height="6.4" fill="#1d1a1a"/>
</g>
<path d="M381.0 354.3 h4.5 c6 0 6.5 5.8 1 6.4 h-4.5 c-5 0.4 -5 5.6 0 6 h3.5 c5 0.4 5 5.4 0 5.8 h-2.5 c-3 0.4 -2.6 3.6 0.8 4" stroke="#fff" stroke-width="2.1" fill="none"/>
<path d="M380.0 348.3 h7.2 M380.0 350.4 h7.2" stroke="#ddd" stroke-width="1"/>
<circle cx="378.1" cy="354.7" r="2.3" fill="#fff" stroke="none"/>
<circle cx="377.8" cy="354.4" r="0.8" fill="#1d1a1a" stroke="none"/>
<circle cx="374.5" cy="362.3" r="20.5" fill="none" stroke-width="1.2" stroke="#1d1a1a"/>
<path id="bt" d="M352.76 359.63 A21.9 21.9 0 0 1 396.24 359.63" fill="none" stroke="none"/>
<text font-family="Liberation Sans, sans-serif" font-weight="bold" font-size="8.4" fill="#1d1a1a" stroke="#1d1a1a" stroke-width="0.3" letter-spacing="0.55"><textPath href="#bt" startOffset="50%" text-anchor="middle">ALFA ROMEO</textPath></text>
<path id="srs" d="M336 432.5 Q376.5 452.5 417 432.5" fill="none" stroke="none"/>
<text font-family="Liberation Sans, sans-serif" font-weight="bold" font-style="italic" font-size="8.8" fill="#1d1a1a" stroke="#1d1a1a" stroke-width="0.6" letter-spacing="1.15" word-spacing="2.5"><textPath href="#srs" startOffset="50%" text-anchor="middle">SRS AIRBAG</textPath></text>
<circle cx="246.5" cy="359.1" r="12.8" fill="#e6e6e6" stroke-width="1.2"/>
<circle cx="246.5" cy="359.1" r="10.5" stroke-width="1.1"/>
<path d="M242.3 363.3 L250.7 354.9" stroke-width="1.6"/>
<path d="M242.1 354.7 L250.9 363.5" stroke-width="0.9"/>
<path d="M244.7 352.5 h3.6 M246.5 350.7 v3.6 M244.7 365.9 h3.6" stroke-width="1"/>
<path d="M238.9 357.1 q-1.6 2 0 4 M241.3 355.7 q-2 0.4 -2.4 2" stroke-width="1"/>
<circle cx="252.1" cy="359.5" r="1.7" fill="#1d1a1a" stroke="none"/>
<path d="M249.7 355.9 q3.4 -1 5 1.6" stroke-width="1"/>
<circle cx="511.7" cy="366.8" r="13.5" fill="#e6e6e6" stroke-width="1.2"/>
<circle cx="511.7" cy="366.8" r="11.2" stroke-width="1.1"/>
<path d="M507.5 371.0 L515.9 362.6" stroke-width="1.6"/>
<path d="M507.3 362.4 L516.1 371.2" stroke-width="0.9"/>
<path d="M509.9 360.2 h3.6 M511.7 358.4 v3.6 M509.9 373.6 h3.6" stroke-width="1"/>
<path d="M504.1 364.8 q-1.6 2 0 4 M506.5 363.4 q-2 0.4 -2.4 2" stroke-width="1"/>
<circle cx="517.3" cy="367.2" r="1.7" fill="#1d1a1a" stroke="none"/>
<path d="M514.9 363.6 q3.4 -1 5 1.6" stroke-width="1"/>
<circle cx="219.5" cy="317.0" r="13.8" stroke-width="0.9"/>
<path d="M197.3 300.5 C196.3 297.8 197.3 295.2 200 293.8 L204.5 291.8 C207 290.8 209.3 291.5 211 293.3 L231.5 311.5 C233.5 313.5 233.5 316 231.5 318 L227 322 C225 323.8 222.5 323.8 220.3 322 L199.5 304.5 Z" fill="#e6e6e6"/>
<path d="M203.3 296.5 L207.5 294.6 C208.8 294.2 209.8 294.7 210 296 L210.3 303" />
<path d="M211.3 309.5 L216.3 304.5 L223.5 311 L218.7 316.3 Z" fill="#a9a9a9" stroke-width="0.9"/>
<path d="M212.9 308 L220.2 314.7 M214.5 306.4 L221.8 313" stroke-width="0.8" stroke="#555"/>
<path d="M519.7 319.6 L534.5 304.5 C536.3 302.6 538.8 302.2 540.8 303.8 L547 309.6 C549 311.6 549.2 313.6 547.6 315.6 L531.3 331.2 Z" fill="#e6e6e6"/>
<path d="M531 312 L536 307.4 C537.3 306.3 538.6 306.3 539.8 307.4 L545 312.6 C546 313.8 546 315 544.8 316 L539.1 320.9" />
<path d="M520 319.9 L526.8 313.4 L535 322.6 L529.2 330 Z" fill="#a9a9a9" stroke-width="0.9"/>
<path d="M522.3 317.8 L531.2 327.6 M524.5 315.7 L533.2 325.3" stroke-width="0.8" stroke="#555"/>
<path d="M553.4 321 C553 326 551 330 547 333 C543 335.5 537 336 531 335.5" />
<path d="M586 326 V361 M588.4 326 V361" stroke-dasharray="3.2 2" stroke-width="0.9"/>
<path d="M187.8 407.8 C186 398 190 386 200 378.9" />
<path d="M196.5 409.5 C194 406.5 194.3 403 197.5 400.7 L228 383.5 L237 390.5 L207 412.5 C203 415 199.5 413.5 196.5 409.5 Z" fill="#e6e6e6"/>
<path d="M199 402.5 L203.5 400 L207.5 411.5 M228 383.5 C232 381.8 236 383.5 238 387" />
<path d="M208.5 398.5 L218.5 392.8 L224 404 L213.5 410.5 Z" fill="#a9a9a9" stroke-width="0.9"/>
<path d="M211 397.2 L216.4 408.6 M213.6 395.7 L219 407 M216 394.3 L221.5 405.5" stroke-width="0.8" stroke="#555"/>
</g>
<g fill="none" stroke="#1d1a1a" stroke-width="3.2" stroke-linejoin="miter" stroke-linecap="butt">
<path d="M119.6 120 V254.8 L165.6 291.4" />
<path d="M181 120 V251.5" />
<path d="M245.5 120 V289.7 L222 308" />
<path d="M380 120 V266" />
<path d="M470 120 V161.8 L401.4 303.8" />
<path d="M560.6 120 V161.8 L524.4 317.1" />
<path d="M649.8 120 V201.6" />
<path d="M690.2 120 V250.6 M614.4 249 V233.5 H768.5 V254" />
<path d="M815.9 120 V314.6 H647.3 V325.4 M711.2 314.6 V324.6 M777.3 314.6 V327.9" />
<path d="M1071.3 120 V275.3" />
<path d="M1180.6 120 V245.2" />
<path d="M1282.1 120 V236.5 L1244.5 286.9" />
<path d="M110.8 612 V446.3 L139 394.5" />
<path d="M143.5 612 V448" />
<path d="M176.9 612 V547.7 L163 524.8" />
<path d="M209.5 612 V415.6" />
<path d="M252 368.3 L366.5 608 L505 374.6" />
<path d="M464.4 612 V483.1" />
<path d="M565.2 612 V360 L590.8 339.5" />
<path d="M612.1 612 V419.8 L595.3 397.5" />
<path d="M716 612 V536" />
<path d="M828.8 612 V489.3 L790.7 461.4" />
<path d="M1033.5 612 V433" />
<path d="M1101 612 V473.7" />
</g>
<g font-family="Liberation Sans, sans-serif" font-weight="bold" font-size="20.5" text-anchor="middle" fill="#fff" stroke="#fff" stroke-width="1.1">
<circle cx="119.6" cy="113" r="13.6" fill="#1d1a1a" stroke="none"/>
<text x="119.6" y="119.9">1</text>
<circle cx="181" cy="113" r="13.6" fill="#1d1a1a" stroke="none"/>
<text x="181" y="119.9">2</text>
<circle cx="245.5" cy="113" r="13.6" fill="#1d1a1a" stroke="none"/>
<text x="245.5" y="119.9">3</text>
<circle cx="380" cy="113" r="13.6" fill="#1d1a1a" stroke="none"/>
<text x="380" y="119.9">4</text>
<circle cx="470" cy="113" r="13.6" fill="#1d1a1a" stroke="none"/>
<text x="470" y="119.9">5</text>
<circle cx="560.6" cy="113" r="13.6" fill="#1d1a1a" stroke="none"/>
<text x="560.6" y="119.9">6</text>
<circle cx="649.8" cy="113" r="13.6" fill="#1d1a1a" stroke="none"/>
<text x="649.8" y="119.9">7</text>
<circle cx="690.2" cy="113" r="13.6" fill="#1d1a1a" stroke="none"/>
<text x="690.2" y="119.9">8</text>
<circle cx="815.9" cy="113" r="13.6" fill="#1d1a1a" stroke="none"/>
<text x="815.9" y="119.9">9</text>
<circle cx="1071.3" cy="113" r="13.6" fill="#1d1a1a" stroke="none"/>
<text x="1070.2" y="119.9" letter-spacing="-2.2">10</text>
<circle cx="1180.6" cy="113" r="13.6" fill="#1d1a1a" stroke="none"/>
<text x="1180.6" y="119.9">2</text>
<circle cx="1282.1" cy="113" r="13.6" fill="#1d1a1a" stroke="none"/>
<text x="1282.1" y="119.9">1</text>
<circle cx="110.5" cy="619" r="13.6" fill="#1d1a1a" stroke="none"/>
<text x="109.4" y="625.9" letter-spacing="-2.2">22</text>
<circle cx="143.5" cy="619" r="13.6" fill="#1d1a1a" stroke="none"/>
<text x="142.4" y="625.9" letter-spacing="-2.2">21</text>
<circle cx="176.9" cy="619" r="13.6" fill="#1d1a1a" stroke="none"/>
<text x="175.8" y="625.9" letter-spacing="-2.2">20</text>
<circle cx="209.5" cy="619" r="13.6" fill="#1d1a1a" stroke="none"/>
<text x="208.4" y="625.9" letter-spacing="-2.2">19</text>
<circle cx="366.5" cy="619" r="13.6" fill="#1d1a1a" stroke="none"/>
<text x="365.4" y="625.9" letter-spacing="-2.2">18</text>
<circle cx="464.4" cy="619" r="13.6" fill="#1d1a1a" stroke="none"/>
<text x="463.29999999999995" y="625.9" letter-spacing="-2.2">17</text>
<circle cx="565.2" cy="619" r="13.6" fill="#1d1a1a" stroke="none"/>
<text x="564.1" y="625.9" letter-spacing="-2.2">16</text>
<circle cx="612.1" cy="619" r="13.6" fill="#1d1a1a" stroke="none"/>
<text x="611.0" y="625.9" letter-spacing="-2.2">15</text>
<circle cx="716" cy="619" r="13.6" fill="#1d1a1a" stroke="none"/>
<text x="714.9" y="625.9" letter-spacing="-2.2">14</text>
<circle cx="828.8" cy="619" r="13.6" fill="#1d1a1a" stroke="none"/>
<text x="827.6999999999999" y="625.9" letter-spacing="-2.2">13</text>
<circle cx="1033.5" cy="619" r="13.6" fill="#1d1a1a" stroke="none"/>
<text x="1032.4" y="625.9" letter-spacing="-2.2">12</text>
<circle cx="1101" cy="619" r="13.6" fill="#1d1a1a" stroke="none"/>
<text x="1099.9" y="625.9" letter-spacing="-2.2">11</text>
</g>
<path d="M1369.7 965.4 H1383.1 L1374.9 989.1 H1369.1 L1375.7 971.1 H1369.7 Z" fill="#1d1a1a"/>
</svg>
<div id="title">ARMATURENBRETT</div>
<div id="abb">Abb. 1</div>
<div id="code">A0F0056m</div>
<div id="txt">
<div style="word-spacing:0.175px;"><b>1.</b> Seitliche ausricht- und verstellbare Luftdüsen - <b>2.</b> Luftdüsen für die Beschlagentfernung/Entfrostung der vorderen Seiten-</div>
<div style="word-spacing:1.937px;">fenster - <b>3.</b> Hebel für Außenlicht - <b>4.</b> Instrumententafel - <b>5.</b> Airbag Fahrerseite und Hupe - <b>6.</b> Bedienungshebel für Schei-</div>
<div style="word-spacing:-2.200px;letter-spacing:-0.116px;">benwischer - <b>7.</b> Mittlere obere Luftdüse - <b>8.</b> Mittlere ausricht- und verstellbare Luftdüsen - <b>9.</b> Anzeige für Kraftstoffstand/Anzeige</div>
<div style="word-spacing:2.659px;">für Motorkühlflüssigkeitstemperatur/Anzeige für Motoröltemperatur (Benzinversionen) oder Druck des Turboladers (Diesel-</div>
<div style="word-spacing:2.364px;">versionen) - <b>10.</b> Airbag Beifahrerseite - <b>11.</b> Front-Knieairbag Beifahrerseite (für Versionen/Märkte, wo worgesehen) - <b>12.</b></div>
<div style="word-spacing:1.269px;">Handschuhfach - <b>13.</b> Autoradio - <b>14.</b> Bedienungselemente für die Klimaanlage - <b>15. START/STOP</b>-Taste zum Anlassen</div>
<div style="word-spacing:1.227px;">des Motors - <b>16.</b> Anlassvorrichtung - <b>17.</b> Front-Knieairbag Fahrerseite - <b>18.</b> Lenkradschalter für das Autoradio (für Versio-</div>
<div style="word-spacing:5.271px;">nen/Märkte, für Versionen/Märkte, wo worgesehen) - <b>19.</b> Schalthebel Cruise Control (wo vorgesehen) - <b>20.</b> Hebel für</div>
<div style="word-spacing:1.347px;">Motorhaubenentriegelung - <b>21.</b> Abdeckung für den Zugang zum Sicherungskasten auf dem Armaturenbrett - <b>22.</b> Schalter-</div>
<div>gruppe für Außenlichter, Nullstellung Tageskilometerzähler und Leuchtweiteneinstellung.</div>
</div>
<div id="tabs">
<div class="tab" style="top:-67.2px;height:112.6px"></div>
<div class="tab on" style="top:45.6px;height:112.6px"></div>
<div class="tl on" style="top:45.6px"><span style="left:1389.9px"><i style="transform:scaleX(1.147)">ARMATUREN-</i><i style="transform:scaleX(1.067)">BRETT UND</i><i style="transform:scaleX(0.970)">BEDIENELEMENTE</i></span></div>
<div class="tab" style="top:158.3px;height:112.6px"></div>
<div class="tl" style="top:158.3px"><span style="left:1369.3px"><i style="transform:scaleX(0.966)">SICHERHEIT</i></span></div>
<div class="tab" style="top:271.1px;height:112.6px"></div>
<div class="tl" style="top:271.1px"><span style="left:1380.2px"><i style="transform:scaleX(0.998)">ANLASSEN</i><i style="transform:scaleX(1.005)">UND FAHRT</i></span></div>
<div class="tab" style="top:383.9px;height:112.6px"></div>
<div class="tl" style="top:383.9px"><span style="left:1389.9px"><i style="transform:scaleX(0.999)">KONTROLL-</i><i style="transform:scaleX(0.969)">LEUCHTEN</i><i style="transform:scaleX(1.016)">UND ANZEIGEN</i></span></div>
<div class="tab" style="top:496.6px;height:112.6px"></div>
<div class="tl" style="top:496.6px"><span style="left:1369.3px"><i style="transform:scaleX(1.043)">IM NOTFALL</i></span></div>
<div class="tab" style="top:609.4px;height:112.6px"></div>
<div class="tl" style="top:609.4px"><span style="left:1380.2px"><i style="transform:scaleX(0.999)">WARTUNG</i><i style="transform:scaleX(0.984)">UND PFLEGE</i></span></div>
<div class="tab" style="top:722.1px;height:112.6px"></div>
<div class="tl" style="top:722.1px"><span style="left:1380.2px"><i style="transform:scaleX(0.976)">TECHNISCHE</i><i style="transform:scaleX(1.026)">MERKMALE</i></span></div>
<div class="tab" style="top:834.9px;height:114.4px"></div>
<div class="tl" style="top:834.9px"><span style="left:1380.2px"><i style="transform:scaleX(1.201)">INHALTS-</i><i style="transform:scaleX(1.106)">VERZEICHNIS</i></span></div>
<div class="tab" style="top:949.4px;height:112.6px"></div>
</div>
</body>
</html>
